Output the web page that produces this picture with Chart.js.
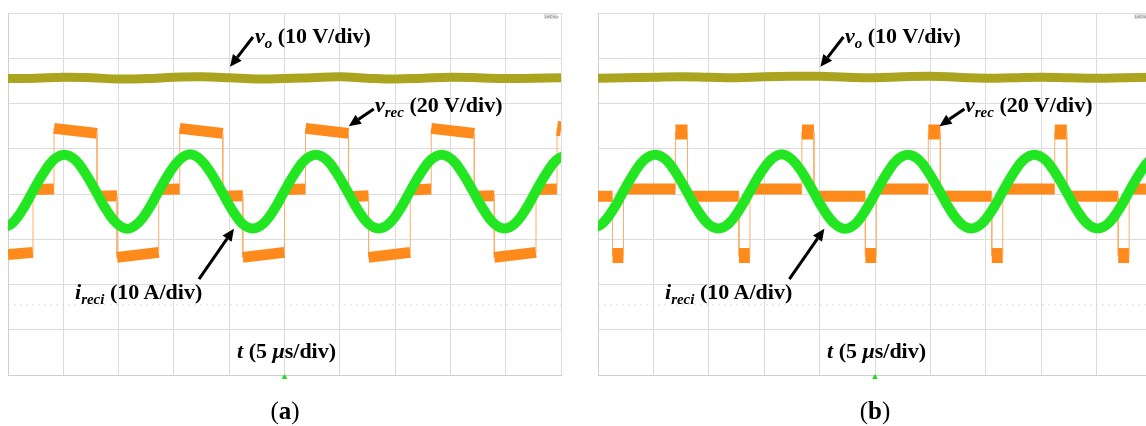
<!DOCTYPE html>
<html><head><meta charset="utf-8">
<script src="https://cdn.jsdelivr.net/npm/chart.js@4"></script>
<style>
html,body{margin:0;padding:0;background:#fff;width:1146px;height:426px;overflow:hidden}
#wrap{position:relative;width:1146px;height:426px;overflow:hidden}
canvas{position:absolute;top:0}
#ca{left:0}
#cb{left:589px}
svg{position:absolute;left:0;top:0}
.t{font-family:"Liberation Serif","Times New Roman",serif;font-weight:bold;font-size:22px;fill:#000}
.s{font-size:15px;font-style:italic}
.lab{font-family:"Liberation Serif","Times New Roman",serif;font-size:25px;fill:#000}
.lc{font-family:"DejaVu Sans",sans-serif;font-size:4px;fill:#777}
</style></head><body>
<div id="wrap">
<canvas id="ca" width="570" height="385"></canvas>
<canvas id="cb" width="570" height="385"></canvas>
<svg width="1146" height="426">
  <g>
    <text class="t" x="255" y="43"><tspan font-style="italic">v</tspan><tspan class="s" dy="5">o</tspan><tspan dy="-5">&#160;(10 V/div)</tspan></text>
    <text class="t" x="375" y="112"><tspan font-style="italic">v</tspan><tspan class="s" dy="5">rec</tspan><tspan dy="-5">&#160;(20 V/div)</tspan></text>
    <text class="t" x="75" y="299"><tspan font-style="italic">i</tspan><tspan class="s" dy="5">reci</tspan><tspan dy="-5">&#160;(10 A/div)</tspan></text>
    <text class="t" x="237" y="358"><tspan font-style="italic">t</tspan> (5 <tspan font-style="italic">μ</tspan>s/div)</text>
    <text class="lab" x="285" y="419" text-anchor="middle">(<tspan font-weight="bold">a</tspan>)</text>
    <rect x="544" y="14" width="13" height="5" fill="#e2e2e2"/>
    <text class="lc" x="545" y="18">LeCroy</text>
  </g>
  <g>
    <text class="t" x="845" y="43"><tspan font-style="italic">v</tspan><tspan class="s" dy="5">o</tspan><tspan dy="-5">&#160;(10 V/div)</tspan></text>
    <text class="t" x="965" y="112"><tspan font-style="italic">v</tspan><tspan class="s" dy="5">rec</tspan><tspan dy="-5">&#160;(20 V/div)</tspan></text>
    <text class="t" x="665" y="299"><tspan font-style="italic">i</tspan><tspan class="s" dy="5">reci</tspan><tspan dy="-5">&#160;(10 A/div)</tspan></text>
    <text class="t" x="827" y="358"><tspan font-style="italic">t</tspan> (5 <tspan font-style="italic">μ</tspan>s/div)</text>
    <text class="lab" x="875" y="419" text-anchor="middle">(<tspan font-weight="bold">b</tspan>)</text>
    <rect x="1134" y="14" width="13" height="5" fill="#e2e2e2"/>
    <text class="lc" x="1135" y="18">LeCroy</text>
  </g>
</svg>
</div>
<script>
// time axis: microseconds (5 us/div), vertical values in screen divisions
const xTicksMax = 50;
const yDivMin = -4, yDivMax = 4;

// output voltage v_o (10 V/div)
const voT = [0, 2.5, 5, 7.5, 10, 12.5, 15, 17.5, 20, 22.5, 25, 27.5, 30, 32.5, 35, 37.5, 40, 42.5, 45, 47.5, 50];
const voA = [2.55, 2.56, 2.58, 2.57, 2.54, 2.55, 2.58, 2.59, 2.57, 2.54, 2.55, 2.57, 2.59, 2.56, 2.54, 2.56, 2.58, 2.57, 2.55, 2.56, 2.57];
const voB = [2.56, 2.57, 2.58, 2.59, 2.58, 2.57, 2.59, 2.60, 2.60, 2.58, 2.57, 2.59, 2.60, 2.58, 2.56, 2.57, 2.58, 2.57, 2.56, 2.57, 2.58];

// rectifier voltage v_rec (20 V/div)
const recAT = [0, 2.26, 2.26, 4.16, 4.16, 8.05, 8.05, 9.86, 9.86, 13.63, 13.63, 15.53, 15.53, 19.42, 19.42, 21.23, 21.23, 25.00, 25.00, 26.90, 26.90, 30.79, 30.79, 32.60, 32.60, 36.37, 36.37, 38.27, 38.27, 42.16, 42.16, 43.97, 43.97, 47.74, 47.74, 49.64, 49.64, 50];
const recAV = [-1.34, -1.29, 0.10, 0.11, 1.45, 1.34, -0.05, -0.04, -1.40, -1.29, 0.10, 0.11, 1.45, 1.34, -0.05, -0.04, -1.40, -1.29, 0.10, 0.11, 1.45, 1.34, -0.06, -0.04, -1.40, -1.29, 0.09, 0.11, 1.45, 1.34, -0.05, -0.04, -1.40, -1.29, 0.10, 0.11, 1.45, 1.44];
const recBT = [0, 1.31, 1.31, 2.30, 2.30, 6.99, 6.99, 8.08, 8.08, 12.72, 12.72, 13.71, 13.71, 18.40, 18.40, 19.49, 19.49, 24.13, 24.13, 25.12, 25.12, 29.81, 29.81, 30.90, 30.90, 35.54, 35.54, 36.53, 36.53, 41.22, 41.22, 42.31, 42.31, 46.95, 46.95, 47.94, 47.94, 50];
const recBV = [-0.05, -0.05, -1.36, -1.36, 0.11, 0.11, 1.37, 1.37, -0.05, -0.05, -1.36, -1.36, 0.11, 0.11, 1.37, 1.37, -0.05, -0.05, -1.36, -1.36, 0.11, 0.11, 1.37, 1.37, -0.05, -0.05, -1.36, -1.36, 0.11, 0.11, 1.37, 1.37, -0.05, -0.05, -1.36, -1.36, 0.11, 0.11];

// rectifier input current i_reci (10 A/div)
const curAT = [-0.59, 0.36, 1.31, 2.25, 3.20, 4.15, 5.10, 6.04, 6.99, 7.94, 8.89, 9.83, 10.78, 11.73, 12.68, 13.62, 14.57, 15.52, 16.47, 17.41, 18.36, 19.31, 20.26, 21.20, 22.15, 23.10, 24.05, 24.99, 25.94, 26.89, 27.84, 28.78, 29.73, 30.68, 31.63, 32.57, 33.52, 34.47, 35.42, 36.36, 37.31, 38.26, 39.21, 40.15, 41.10, 42.05, 43.00, 43.94, 44.89, 45.84, 46.79, 47.73, 48.68, 49.63, 50.58];
const curAV = [-0.76, -0.65, -0.35, 0.06, 0.46, 0.76, 0.87, 0.76, 0.46, 0.06, -0.35, -0.65,
               -0.77, -0.65, -0.35, 0.06, 0.46, 0.76, 0.88, 0.76, 0.46, 0.06, -0.35, -0.66,
               -0.76, -0.65, -0.35, 0.06, 0.46, 0.76, 0.87, 0.76, 0.46, 0.06, -0.35, -0.65,
               -0.76, -0.65, -0.35, 0.06, 0.46, 0.76, 0.87, 0.76, 0.46, 0.06, -0.35, -0.65,
               -0.76, -0.65, -0.35, 0.06, 0.46, 0.76, 0.87];
const curBT = [-0.55, 0.40, 1.35, 2.30, 3.25, 4.20, 5.16, 6.11, 7.06, 8.01, 8.96, 9.91, 10.86, 11.81, 12.76, 13.72, 14.67, 15.62, 16.57, 17.52, 18.47, 19.42, 20.37, 21.32, 22.27, 23.23, 24.18, 25.13, 26.08, 27.03, 27.98, 28.93, 29.88, 30.83, 31.78, 32.74, 33.69, 34.64, 35.59, 36.54, 37.49, 38.44, 39.39, 40.34, 41.29, 42.25, 43.20, 44.15, 45.10, 46.05, 47.00, 47.95, 48.90, 49.85, 50.80];
const curBV = [-0.76, -0.65, -0.35, 0.06, 0.46, 0.76, 0.87, 0.76, 0.46, 0.06, -0.35, -0.65,
               -0.76, -0.65, -0.35, 0.06, 0.46, 0.76, 0.88, 0.76, 0.46, 0.06, -0.35, -0.65,
               -0.77, -0.66, -0.35, 0.06, 0.46, 0.76, 0.87, 0.76, 0.46, 0.06, -0.35, -0.65,
               -0.76, -0.65, -0.35, 0.06, 0.46, 0.76, 0.87, 0.76, 0.46, 0.06, -0.35, -0.65,
               -0.76, -0.65, -0.35, 0.06, 0.46, 0.76, 0.87];

// faint dotted reference row and trigger marker
const refT = [0, 50];
const refV = [-2.45, -2.45];
const trigT = [25];
const trigV = [-4.05];

// annotation arrows (tail -> head), in time / division units
const arrowTailT = [22.15, 33.07, 17.27];
const arrowTailV = [3.47, 1.88, -1.88];
const arrowHeadT = [20.07, 30.81, 20.43];
const arrowHeadV = [2.81, 1.50, -0.77];

const zip = (a, b) => a.map((v, i) => ({x: v, y: b[i]}));

const arrowPlugin = {
  id: 'arrows',
  afterDatasetsDraw(chart) {
    const {ctx, scales: {x, y}} = chart;
    ctx.save();
    ctx.strokeStyle = '#000'; ctx.fillStyle = '#000'; ctx.lineWidth = 3;
    for (let i = 0; i < arrowTailT.length; i++) {
      const x0 = x.getPixelForValue(arrowTailT[i]), y0 = y.getPixelForValue(arrowTailV[i]);
      const x1 = x.getPixelForValue(arrowHeadT[i]), y1 = y.getPixelForValue(arrowHeadV[i]);
      const ang = Math.atan2(y1 - y0, x1 - x0);
      const L = 12, W = 5.5;
      const bx = x1 - L * Math.cos(ang), by = y1 - L * Math.sin(ang);
      ctx.beginPath(); ctx.moveTo(x0, y0); ctx.lineTo(bx, by); ctx.stroke();
      ctx.beginPath(); ctx.moveTo(x1, y1);
      ctx.lineTo(bx + W * Math.sin(ang), by - W * Math.cos(ang));
      ctx.lineTo(bx - W * Math.sin(ang), by + W * Math.cos(ang));
      ctx.closePath(); ctx.fill();
    }
    ctx.restore();
  }
};

function makeChart(id, pad, vo, recT, recV, curT, curV) {
  const dur = c => Math.abs(c.p1.parsed.x - c.p0.parsed.x);
  const segW = c => dur(c) === 0 ? 1 : (dur(c) < 1.2 ? 15 : 11);
  return new Chart(document.getElementById(id), {
    type: 'line',
    data: {
      datasets: [
        {data: zip(curT, curV), borderColor: '#22e622', borderWidth: 10, tension: 0.4, pointRadius: 0, clip: 0},
        {data: zip(voT, vo), borderColor: '#aba41f', borderWidth: 9, tension: 0.4, pointRadius: 0, clip: 0},
        {data: zip(recT, recV), borderColor: '#ff8a1c', borderWidth: 11, tension: 0, pointRadius: 0, clip: 0,
         segment: {borderWidth: segW, borderColor: c => dur(c) === 0 ? '#ffae6a' : '#ff8a1c'}},
        {data: zip(refT, refV), borderColor: '#dedede', borderWidth: 1, borderDash: [2, 4], pointRadius: 0, clip: 0},
        {data: zip(trigT, trigV), showLine: false, pointStyle: 'triangle', pointRadius: 2.5,
         pointBackgroundColor: '#22dd22', pointBorderColor: '#22dd22', clip: false}
      ]
    },
    options: {
      responsive: false, animation: false, devicePixelRatio: 1,
      layout: {padding: pad},
      plugins: {legend: {display: false}, tooltip: {enabled: false}},
      scales: {
        x: {type: 'linear', min: 0, max: xTicksMax, ticks: {display: false, stepSize: 5},
            grid: {color: '#dcdcdc', drawTicks: false}, border: {color: '#cfcfcf'}},
        y: {type: 'linear', min: yDivMin, max: yDivMax, ticks: {display: false, stepSize: 1},
            grid: {color: '#dcdcdc', drawTicks: false}, border: {color: '#cfcfcf'}}
      }
    },
    plugins: [arrowPlugin]
  });
}

makeChart('ca', {left: 8, top: 13, right: 9, bottom: 10}, voA, recAT, recAV, curAT, curAV);
makeChart('cb', {left: 9, top: 13, right: 7, bottom: 10}, voB, recBT, recBV, curBT, curBV);
</script>
</body></html>
